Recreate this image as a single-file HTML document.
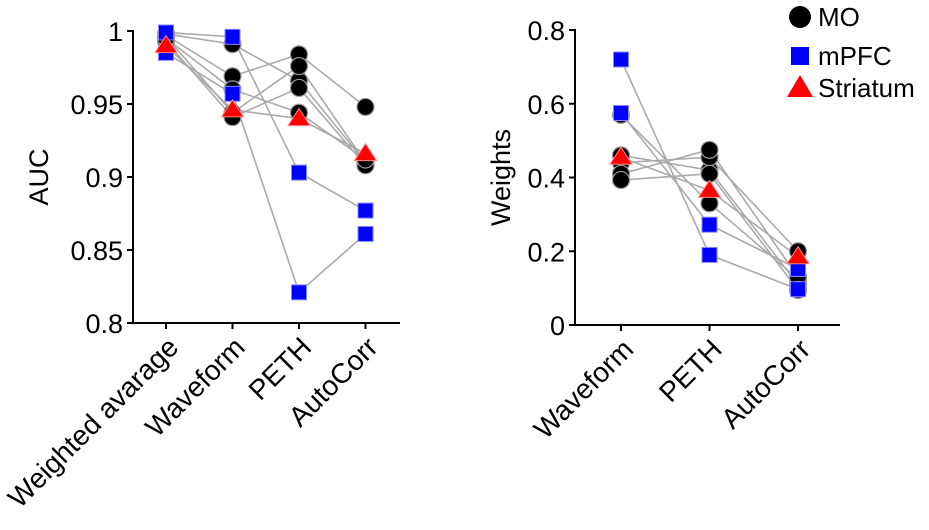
<!DOCTYPE html>
<html><head><meta charset="utf-8"><style>
body{margin:0;background:#fff;}
svg{display:block;font-family:"Liberation Sans",Arial,sans-serif;}
</style></head><body>
<svg id="c" width="929" height="530" viewBox="0 0 929 530"></svg>
<script>
// Left panel data (AUC)
const aucCategories = ["Weighted avarage","Waveform","PETH","AutoCorr"];
const aucTicks = [0.8,0.85,0.9,0.95,1];
const aucTickLabels = ["0.8","0.85","0.9","0.95","1"];
const aucGroups = ["MO","MO","MO","MO","MO","Striatum","mPFC","mPFC"];
const aucLines = [
 [0.998,0.991,0.966,0.910],
 [0.997,0.969,0.984,0.948],
 [0.996,0.944,0.976,0.910],
 [0.993,0.941,0.961,0.908],
 [0.995,0.960,0.944,0.912],
 [0.990,0.946,0.940,0.916],
 [0.999,0.996,0.903,0.877],
 [0.985,0.957,0.821,0.861]
];
// Right panel data (Weights)
const wCategories = ["Waveform","PETH","AutoCorr"];
const wTicks = [0,0.2,0.4,0.6,0.8];
const wTickLabels = ["0","0.2","0.4","0.6","0.8"];
const wGroups = ["mPFC","mPFC","MO","MO","MO","MO","Striatum","MO"];
const wLines = [
 [0.720,0.190,0.097],
 [0.575,0.272,0.152],
 [0.570,0.330,0.125],
 [0.460,0.420,0.110],
 [0.440,0.455,0.200],
 [0.410,0.475,0.130],
 [0.455,0.365,0.185],
 [0.393,0.410,0.095]
];

const svg=document.getElementById('c');
const NS="http://www.w3.org/2000/svg";
function mk(tag,attrs,parent){const e=document.createElementNS(NS,tag);for(const k in attrs)e.setAttribute(k,attrs[k]);(parent||svg).appendChild(e);return e;}

function marker(g,group,x,y){
  let m;
  if(group==="MO"){m=mk('circle',{cx:x,cy:y,r:8.5,fill:'#000',stroke:'#999','stroke-width':1.2},g);}
  else if(group==="mPFC"){m=mk('rect',{x:x-7.5,y:y-7.5,width:15,height:15,fill:'#0000ff',stroke:'#8888ff','stroke-width':1},g);}
  else {m=mk('polygon',{points:`${x},${y-10} ${x+11},${y+7} ${x-11},${y+7}`,fill:'#ff0000',stroke:'#ff8888','stroke-width':1},g);}
  
  
}

function panel(cfg){
  const g=mk('g',{});
  
  
  const yS=v=>cfg.y0+(v-cfg.vmin)/(cfg.vmax-cfg.vmin)*(cfg.y1-cfg.y0);
  const xS=i=>cfg.xs[0]+i*cfg.dx;
  const ya=mk('line',{x1:cfg.ax,y1:cfg.y1-1,x2:cfg.ax,y2:cfg.y0+1,stroke:'#000','stroke-width':2},g);
  
  const xa=mk('line',{x1:cfg.ax-1,y1:cfg.y0,x2:cfg.xend,y2:cfg.y0,stroke:'#000','stroke-width':2},g);
  
  cfg.ticks.forEach((t,i)=>{
    const y=yS(t);
    mk('line',{x1:cfg.ax-6,y1:y,x2:cfg.ax,y2:y,stroke:'#000','stroke-width':2},g);
    const tx=mk('text',{x:cfg.ax-10,y:y+10,'text-anchor':'end','font-size':27},g);
    tx.textContent=cfg.tickLabels[i];
    
  });
  cfg.cats.forEach((c,i)=>{
    const x=xS(i);
    mk('line',{x1:x,y1:cfg.y0,x2:x,y2:cfg.y0+6,stroke:'#000','stroke-width':2},g);
    const tx=mk('text',{x:0,y:0,'text-anchor':'end','font-size':28,transform:`translate(${x+14},${cfg.y0+26}) rotate(-45)`},g);
    tx.textContent=c;
    
  });
  const yl=mk('text',{x:0,y:0,'text-anchor':'middle','font-size':27,transform:`translate(${cfg.ylx},${(cfg.y0+cfg.y1)/2}) rotate(-90)`},g);
  yl.textContent=cfg.ylabel;
  
  const lines=cfg.lines,groups=cfg.groups;
  lines.forEach(l=>{
    const pl=mk('polyline',{points:l.map((v,i)=>xS(i)+','+yS(v)).join(' '),fill:'none',stroke:'#aaa','stroke-width':1.6},g);
    
  });
  const order=["MO","mPFC","Striatum"];
  order.forEach(gr=>lines.forEach((l,k)=>{if(groups[k]===gr)l.forEach((v,i)=>marker(g,gr,xS(i),yS(v)));}));
}

panel({name:'auc-panel',cats:aucCategories,ticks:aucTicks,tickLabels:aucTickLabels,
 lines:aucLines,groups:aucGroups,
 vmin:0.8,vmax:1,y0:323,y1:31,ax:133,xend:400,xs:[166],dx:66.5,ylx:48,ylabel:'AUC'});
panel({name:'weights-panel',cats:wCategories,ticks:wTicks,tickLabels:wTickLabels,
 lines:wLines,groups:wGroups,
 vmin:0,vmax:0.8,y0:325,y1:30,ax:575,xend:840,xs:[621],dx:88.5,ylx:510,ylabel:'Weights'});

const lg=mk('g',{});

[["MO",17],["mPFC",56],["Striatum",88]].forEach(([n,y])=>{
  const e=mk('g',{},lg);
  
  if(n==="MO")mk('circle',{cx:800,cy:y,r:11,fill:'#000'},e);
  else if(n==="mPFC")mk('rect',{x:791,y:y-9,width:18,height:18,fill:'#0000ff'},e);
  else mk('polygon',{points:`800,${y-13} 813,${y+9} 787,${y+9}`,fill:'#ff0000'},e);
  const t=mk('text',{x:818,y:y+9,'font-size':26},e);t.textContent=n;
});
</script>
</body></html>
